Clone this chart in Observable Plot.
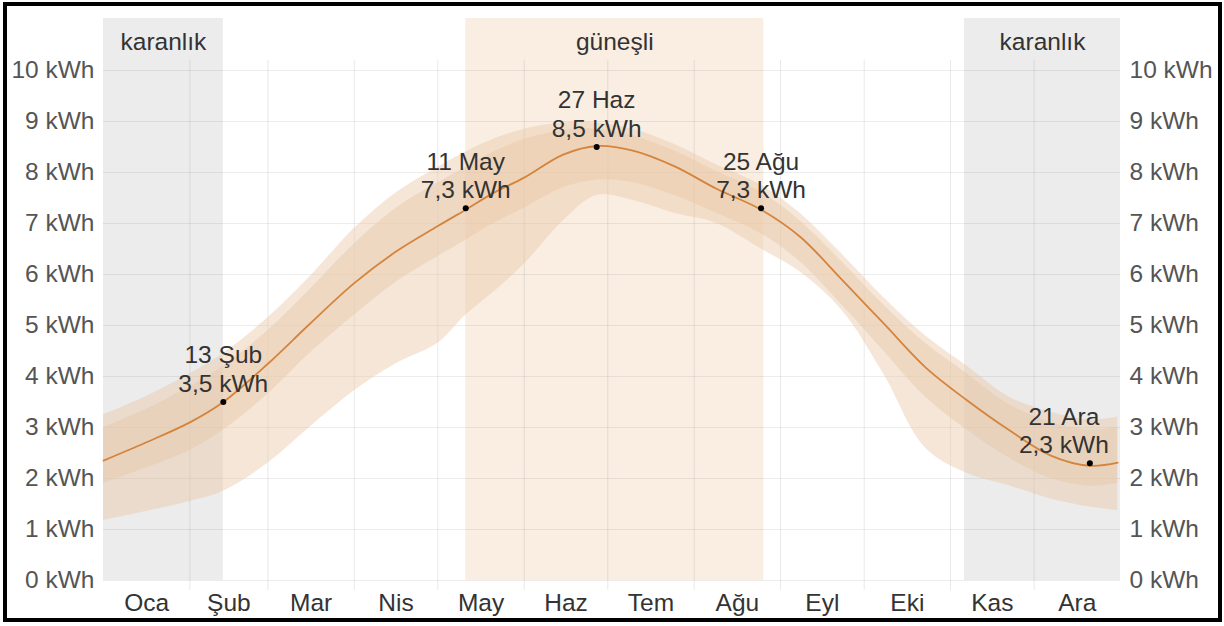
<!DOCTYPE html>
<html><head><meta charset="utf-8">
<script src="https://cdn.jsdelivr.net/npm/d3@7"></script>
<script src="https://cdn.jsdelivr.net/npm/@observablehq/plot@0.6"></script>
<style>
html,body{margin:0;padding:0;background:#fff;}
#wrap{position:relative;width:1224px;height:626px;overflow:hidden;}
#frame{position:absolute;left:3px;top:2px;width:1219px;height:620px;box-sizing:border-box;border:4px solid #000;pointer-events:none;}
</style></head><body>
<div id="wrap"><div id="chart"></div><div id="frame"></div></div>
<script>
// day of year (0 = 1 Jan)
const days   = [0, 15, 31, 43, 59, 74, 90, 105, 120, 130, 140, 151, 165, 177, 190, 205, 220, 236, 250, 265, 280, 295, 310, 325, 340, 354, 364];
const median = [2.35, 2.7, 3.1, 3.5, 4.25, 5.03, 5.83, 6.45, 6.95, 7.27, 7.6, 7.9, 8.35, 8.52, 8.43, 8.12, 7.68, 7.27, 6.74, 5.9, 5.04, 4.18, 3.53, 2.95, 2.45, 2.25, 2.31];
const p90    = [3.25, 3.6, 4.05, 4.45, 5.15, 5.95, 6.9, 7.6, 8.1, 8.4, 8.65, 8.85, 8.97, 8.97, 8.85, 8.55, 8.15, 7.75, 7.2, 6.4, 5.55, 4.8, 4.2, 3.6, 3.3, 3.15, 3.2];
const p75    = [3.0, 3.35, 3.8, 4.2, 4.9, 5.7, 6.6, 7.3, 7.8, 8.1, 8.4, 8.65, 8.82, 8.85, 8.72, 8.42, 8.02, 7.62, 7.05, 6.25, 5.4, 4.65, 4.05, 3.45, 3.1, 2.95, 3.0];
const p25    = [1.9, 2.2, 2.55, 2.95, 3.65, 4.45, 5.2, 5.85, 6.35, 6.67, 7.0, 7.3, 7.7, 7.85, 7.8, 7.55, 7.2, 6.8, 6.25, 5.4, 4.5, 3.6, 2.95, 2.4, 2.0, 1.85, 1.9];
const p10    = [1.18, 1.35, 1.55, 1.75, 2.3, 3.0, 3.72, 4.25, 4.65, 5.2, 5.65, 6.2, 7.05, 7.55, 7.45, 7.2, 7.0, 6.5, 6.05, 5.3, 4.05, 2.6, 2.1, 1.86, 1.6, 1.44, 1.37];

const monthStarts = [0, 31, 59, 90, 120, 151, 181, 212, 243, 273, 304, 334, 365];
const monthNames  = ["Oca", "Şub", "Mar", "Nis", "May", "Haz", "Tem", "Ağu", "Eyl", "Eki", "Kas", "Ara"];
const yTicks = [0, 1, 2, 3, 4, 5, 6, 7, 8, 9, 10];

const periodStart = [0, 130, 309];
const periodEnd   = [43, 237, 365];
const periodLabel = ["karanlık", "güneşli", "karanlık"];
const periodKind  = ["dark", "sunny", "dark"];

const annDays   = [43, 130, 177, 236, 354];
const annValues = [3.5, 7.3, 8.5, 7.3, 2.3];
const annDates  = ["13 Şub", "11 May", "27 Haz", "25 Ağu", "21 Ara"];

const rows = days.map((d, i) => ({day: d, median: median[i], p90: p90[i], p75: p75[i], p25: p25[i], p10: p10[i]}));
const periods = periodStart.map((s, i) => ({start: s, end: periodEnd[i], label: periodLabel[i], kind: periodKind[i]}));
const months = monthNames.map((m, i) => ({mid: (monthStarts[i] + monthStarts[i + 1]) / 2, name: m}));
const anns = annDays.map((d, i) => ({day: d, value: annValues[i], text: `${annDates[i]}\n${String(annValues[i]).replace(".", ",")} kWh`}));
const annMain = anns.slice(0, 4);
const annEdge = anns.slice(4);

const font = "'Liberation Sans', Arial, Helvetica, sans-serif";
const curve = "catmull-rom";
const fs = 24.5;

const chart = Plot.plot({
  width: 1224,
  height: 626,
  marginLeft: 103,
  marginRight: 104,
  marginTop: 18,
  marginBottom: 46,
  style: {fontFamily: font, fontSize: fs + "px", background: "transparent"},
  x: {domain: [0, 365], axis: null},
  y: {domain: [0, 10], range: [580, 70], axis: null},
  marks: [
    Plot.rectX(periods, {x1: "start", x2: "end", fill: d => d.kind === "dark" ? "#ececed" : "#faeee3"}),
    Plot.ruleY(yTicks, {stroke: "#000", strokeOpacity: 0.07}),
    Plot.ruleX(monthStarts.slice(1, 12), {y1: 10.2, y2: -0.2, stroke: "#000", strokeOpacity: 0.09}),
    Plot.areaY(rows, {x: "day", y1: "p10", y2: "p90", fill: "#e9c8a6", fillOpacity: 0.45, curve}),
    Plot.areaY(rows, {x: "day", y1: "p25", y2: "p75", fill: "#e9c8a6", fillOpacity: 0.45, curve}),
    Plot.lineY(rows, {x: "day", y: "median", stroke: "#d4843c", strokeWidth: 1.8, curve}),
    Plot.dot(anns, {x: "day", y: "value", r: 3, fill: "#000"}),
    Plot.text(annMain, {x: "day", y: "value", text: "text", lineAnchor: "bottom", lineHeight: 1.17, dy: -10, fontSize: fs, fill: "#333"}),
    Plot.text(annEdge, {x: "day", y: "value", text: "text", lineAnchor: "bottom", lineHeight: 1.17, dy: -10, dx: -26, fontSize: fs, fill: "#333"}),
    Plot.text(periods, {x: d => (d.start + d.end) / 2, text: "label", frameAnchor: "top", lineAnchor: "middle", dy: 24, fontSize: fs, fill: "#333"}),
    Plot.text(months, {x: "mid", text: "name", frameAnchor: "bottom", lineAnchor: "middle", dy: 23, fontSize: fs, fill: "#333"}),
    Plot.text(yTicks, {y: d => d, text: d => `${d} kWh`, frameAnchor: "left", textAnchor: "end", dx: -9, fontSize: fs, fill: "#555"}),
    Plot.text(yTicks, {y: d => d, text: d => `${d} kWh`, frameAnchor: "right", textAnchor: "start", dx: 9, fontSize: fs, fill: "#555"})
  ]
});
document.getElementById("chart").appendChild(chart);
</script>
</body></html>
